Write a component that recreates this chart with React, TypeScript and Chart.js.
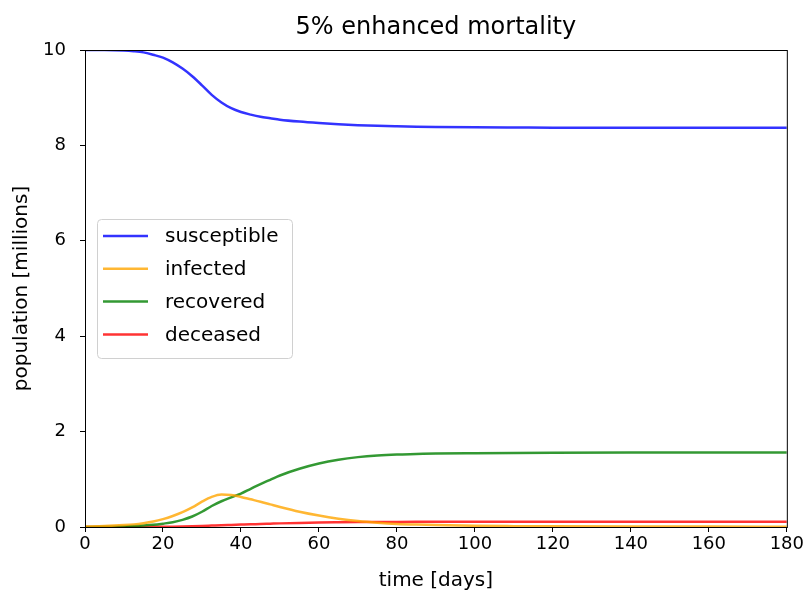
import React, { useEffect, useRef } from "react";
import { Chart, registerables } from "chart.js";

Chart.register(...registerables);

const days = [0, 5, 10, 12.5, 15, 17.5, 20, 22.5, 25, 27.5, 30, 32.5, 35, 37.5, 40, 42.5, 45, 47.5, 50, 55, 60, 65, 70, 75, 80, 85, 90, 100, 110, 120, 140, 160, 180];
const susceptible = [10, 10, 9.99, 9.975, 9.95, 9.9, 9.84, 9.74, 9.61, 9.45, 9.26, 9.06, 8.9, 8.78, 8.7, 8.645, 8.6, 8.57, 8.54, 8.5, 8.47, 8.445, 8.425, 8.41, 8.4, 8.392, 8.386, 8.378, 8.374, 8.372, 8.37, 8.37, 8.37];
const infected = [0.01, 0.02, 0.04, 0.055, 0.08, 0.115, 0.165, 0.23, 0.31, 0.41, 0.53, 0.63, 0.68, 0.67, 0.63, 0.58, 0.53, 0.475, 0.42, 0.32, 0.24, 0.175, 0.125, 0.09, 0.065, 0.05, 0.04, 0.025, 0.018, 0.014, 0.01, 0.008, 0.007];
const recovered = [0, 0.005, 0.012, 0.02, 0.03, 0.045, 0.07, 0.1, 0.15, 0.22, 0.32, 0.44, 0.54, 0.62, 0.7, 0.8, 0.9, 0.99, 1.08, 1.22, 1.33, 1.41, 1.465, 1.5, 1.52, 1.53, 1.54, 1.548, 1.553, 1.556, 1.56, 1.562, 1.563];
const deceased = [0, 0, 0.001, 0.002, 0.002, 0.003, 0.005, 0.007, 0.011, 0.016, 0.022, 0.03, 0.038, 0.044, 0.05, 0.056, 0.064, 0.07, 0.076, 0.086, 0.094, 0.099, 0.103, 0.105, 0.107, 0.108, 0.108, 0.109, 0.109, 0.11, 0.11, 0.11, 0.11];

const seriesNames = ["susceptible", "infected", "recovered", "deceased"];
const seriesColors = ["rgba(0,0,255,0.8)", "rgba(255,165,0,0.8)", "rgba(0,128,0,0.8)", "rgba(255,0,0,0.8)"];
const xTicks = [0, 20, 40, 60, 80, 100, 120, 140, 160, 180];
const yTicks = [0, 2, 4, 6, 8, 10];
const titleText = "5% enhanced mortality";
const xTitle = "time [days]";
const yTitle = "population [millions]";

const FONT = "DejaVu Sans";

export default function App() {
  const ref = useRef<HTMLCanvasElement>(null);
  useEffect(() => {
    const all = [susceptible, infected, recovered, deceased];
    const frame = {
      id: "frame",
      afterDraw(chart: any) {
        const { ctx, chartArea: a } = chart;
        ctx.save();
        ctx.strokeStyle = "#000";
        ctx.lineWidth = 1;
        ctx.strokeRect(a.left + 0.5, a.top + 0.5, a.right - a.left, a.bottom - a.top);
        // title
        ctx.fillStyle = "#000";
        ctx.font = `24px "${FONT}"`;
        ctx.textAlign = "center";
        ctx.textBaseline = "middle";
        ctx.fillText(titleText, (a.left + a.right) / 2, 28);
        // legend
        const lx = 97, ly = 219, lw = 195, lh = 139;
        ctx.fillStyle = "rgba(255,255,255,0.8)";
        ctx.strokeStyle = "#d0d0d0";
        ctx.lineWidth = 1;
        ctx.beginPath();
        (ctx as any).roundRect(lx + 0.5, ly + 0.5, lw, lh, 4);
        ctx.fill();
        ctx.stroke();
        ctx.font = `20px "${FONT}"`;
        ctx.textAlign = "left";
        seriesNames.forEach((n, i) => {
          const y = 236 + i * 32.8;
          ctx.strokeStyle = seriesColors[i];
          ctx.lineWidth = 2.5;
          ctx.beginPath();
          ctx.moveTo(103, y);
          ctx.lineTo(148, y);
          ctx.stroke();
          ctx.fillStyle = "#000";
          ctx.fillText(n, 165, y + 1);
        });
        ctx.restore();
      },
    };
    const chart = new Chart(ref.current!, {
      type: "line",
      data: {
        datasets: seriesNames.map((n, i) => ({
          label: n,
          data: days.map((d, j) => ({ x: d, y: all[i][j] })),
          borderColor: seriesColors[i],
          borderWidth: 2.5,
          pointRadius: 0,
          cubicInterpolationMode: "monotone" as const,
          fill: false,
        })),
      },
      options: {
        animation: false,
        responsive: false,
        layout: { padding: { top: 50, right: 19, left: 0, bottom: 0 } },
        plugins: { legend: { display: false }, title: { display: false }, tooltip: { enabled: false } },
        scales: {
          x: {
            type: "linear",
            min: 0,
            max: 180,
            afterBuildTicks: (s: any) => { s.ticks = xTicks.map((v) => ({ value: v })); },
            afterFit: (s: any) => { s.height = 66; },
            grid: { display: true, drawOnChartArea: false, drawTicks: true, tickLength: 5, color: "#000" },
            border: { display: false },
            ticks: { color: "#000", font: { family: FONT, size: 18 }, padding: 2, maxRotation: 0 },
            title: { display: true, text: xTitle, color: "#000", font: { family: FONT, size: 20 }, padding: { top: 0, bottom: 0 } },
          },
          y: {
            type: "linear",
            min: 0,
            max: 10,
            afterBuildTicks: (s: any) => { s.ticks = yTicks.map((v) => ({ value: v })); },
            afterFit: (s: any) => { s.width = 85; },
            grid: { display: true, drawOnChartArea: false, drawTicks: true, tickLength: 5, color: "#000" },
            border: { display: false },
            ticks: { color: "#000", font: { family: FONT, size: 18 }, padding: 14 },
            title: { display: true, text: yTitle, color: "#000", font: { family: FONT, size: 20 }, padding: { top: 10, bottom: 0 } },
          },
        },
      },
      plugins: [frame],
    });
    return () => chart.destroy();
  }, []);
  return (
    <div style={{ position: "fixed", left: 0, top: 0, width: 806, height: 593, background: "#fff" }}>
      <canvas ref={ref} width={806} height={593} />
    </div>
  );
}
